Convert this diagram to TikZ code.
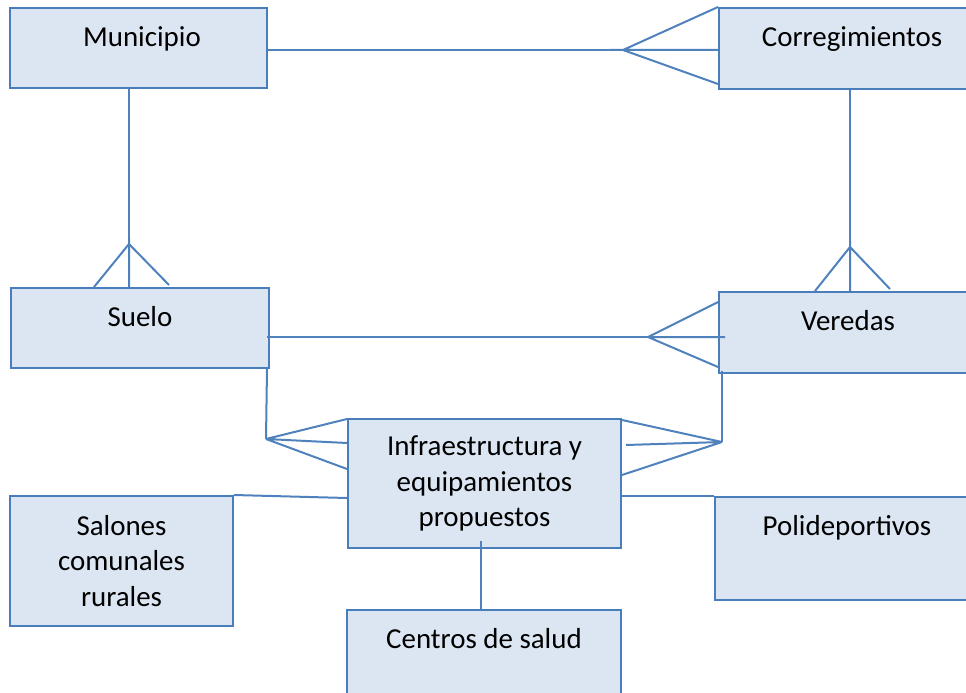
\documentclass[tikz,border=0pt]{standalone}
\usepackage{fontspec}
\setmainfont{Carlito}
\usetikzlibrary{calc, positioning}
\definecolor{cajafondo}{HTML}{DCE6F2}
\definecolor{cajaborde}{HTML}{4A7EBB}
\definecolor{linea}{HTML}{4F81BD}
\newcommand\letra{\fontsize{21.7}{26.6}\selectfont}

\begin{document}
\begin{tikzpicture}[x=0.75pt, y=-0.75pt,
  caja/.style={draw=cajaborde, fill=cajafondo, line width=1.5pt, inner sep=0pt, align=center, font=\letra},
  texto/.style={anchor=base, inner sep=0pt, font=\letra},
  rel/.style={draw=linea, line width=0.9pt},
  pata/.style={draw=linea, line width=1.5pt}]
\useasboundingbox (0,0) rectangle (966,692);
\clip (0,0) rectangle (966,692);

\foreach \nombre/\cx/\cy/\ancho/\alto in {mun/138.5/48/257/80, cor/852/48.5/266/81, sue/140/328/258/80, ver/848/332.5/258/81, pol/847/548.5/264/103, cen/484/660/274/100} {
    \node[caja, minimum width=\ancho*0.75pt, minimum height=\alto*0.75pt] (\nombre) at (\cx,\cy) {};
}
\node[caja, minimum width=273*0.75pt, minimum height=129*0.75pt] (inf) at (484.5,483.5) {Infraestructura y\\equipamientos\\propuestos};
\node[caja, minimum width=223*0.75pt, minimum height=130*0.75pt] (sal) at (121.5,561) {Salones\\comunales\\rurales};

\foreach \nombre/\dx/\txt in {mun/3.5/Municipio, cor/0/Corregimientos, sue/0/Suelo, ver/0/Veredas, pol/0/Polideportivos, cen/0/Centros de salud} {
    \node[texto] at ($(\nombre.north)+(\dx,39)$) {\txt};
}

\coordinate (pcor) at (623,50);
\coordinate (psue) at (129,244);
\coordinate (pver) at (850,247);
\coordinate (pver2) at (648,337);
\coordinate (pinf1) at (266,439);
\coordinate (pinf2) at (722,442);

\draw[rel] (mun.east |- pcor) -- (pcor);
\draw[pata] ($(pcor)+(-14,0)$) -- (pcor) -- (cor.north west) (pcor) -- (cor.west |- pcor) (pcor) -- ($(cor.south west)+(0,-6)$);

\draw[rel] (mun.south -| psue) -- (psue);
\draw[pata] ($(psue)+(0,-6)$) -- (psue |- sue.north) (psue) -- ($(sue.north west)+(84,0)$) (psue) -- ($(sue.north west)+(159,-2)$);

\draw[rel] (cor.south -| pver) -- (pver);
\draw[pata] ($(pver)+(0,-6)$) -- (pver |- ver.north) (pver) -- ($(ver.north west)+(97,0)$) (pver) -- ($(ver.north west)+(172,-2)$);

\draw[rel] ($(sue.east)+(-3,9)$) -- (pver2);
\draw[pata] (pver2) -- ($(ver.north west)+(0,11)$) (pver2) -- ($(ver.west |- pver2)+(7,0)$) (pver2) -- ($(ver.south west)+(0,-7)$);

\draw[pata] ($(sue.south east)+(-3,0)$) -- (pinf1);
\draw[pata] (pinf1) -- ($(inf.north west)+(0,1)$) (pinf1) -- ($(inf.west |- pinf1)+(0,4)$) (pinf1) -- ($(inf.north west)+(0,51)$);

\draw[pata] ($(ver.south west -| pinf2)+(0,-3)$) -- (pinf2);
\draw[pata] (pinf2) -- ($(inf.north east)+(0,2)$) (pinf2) -- ($(inf.north east)+(4,27)$) (pinf2) -- ($(inf.north east)+(0,57)$);

\draw[pata] (sal.north east) -- ($(inf.north west)+(0,80)$);
\draw[pata] (inf.east |- pol.north) -- (pol.north west);
\draw[pata] ($(inf.south)+(-3.5,-8)$) -- ($(cen.north)+(-3,0)$);
\end{tikzpicture}
\end{document}
